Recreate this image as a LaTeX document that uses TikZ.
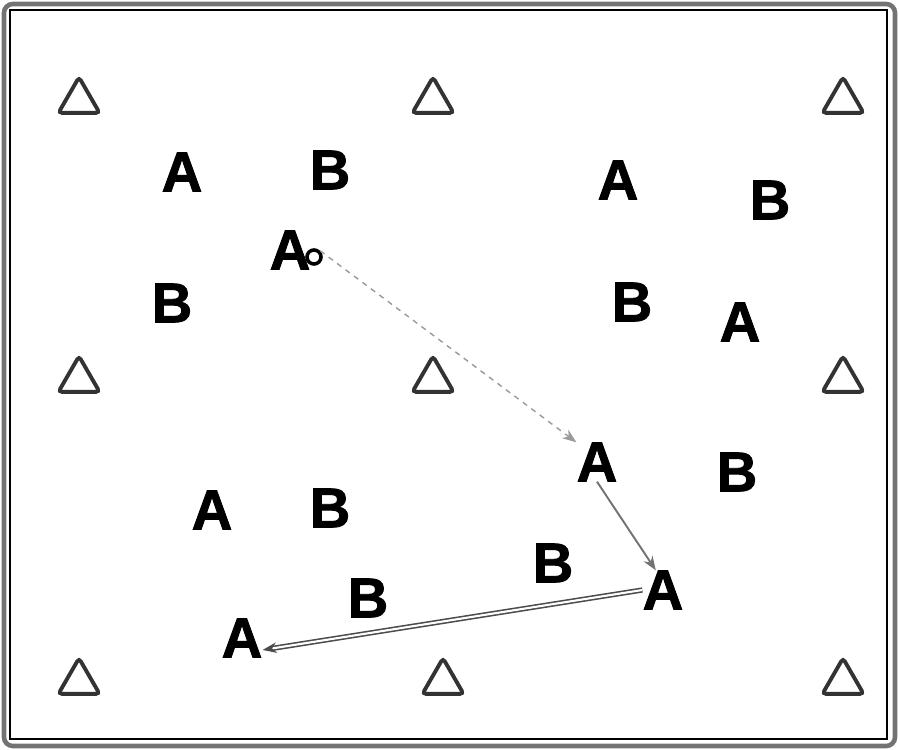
\documentclass[tikz,border=0pt]{standalone}
\usepackage{fontspec}
\setmainfont{Liberation Sans}
\newfontfamily\playerfont{Liberation Sans}[BoldFeatures={FakeBold=1.5}]
\usetikzlibrary{arrows.meta,shapes.geometric}

\begin{document}
\begin{tikzpicture}[
  x=0.02cm, y=-0.02cm,
  >={Stealth[length=8pt,width=6pt]},
  player/.style={font=\fontsize{32}{34}\playerfont\bfseries, inner sep=0pt},
  cone/.style={draw=black!80, line width=2.2pt, regular polygon, regular polygon sides=3,
               minimum size=0.95cm, inner sep=0pt, rounded corners=2pt},
  ball/.style={circle, draw=black, line width=2pt, fill=white, minimum size=8pt, inner sep=0pt},
  run/.style={->, gray!80, line width=0.8pt, dashed},
  pass/.style={->, black!55, line width=1.1pt},
  dribble/.style={->, draw=black!70, double=white, double distance=1.2pt, line width=0.9pt}
]
\useasboundingbox (0,0) rectangle (900,750);

% --- Frame ---
\draw[line width=2.6pt, black!55, rounded corners=5pt] (4,4) rectangle (895,746);
\draw[line width=0.6pt] (10,10) rectangle (887,739);

% --- Cones ---
\node[cone] (c11) at (79,101) {};
\node[cone] (c12) at (433,101) {};
\node[cone] (c13) at (843,101) {};
\node[cone] (c21) at (79,380) {};
\node[cone] (c22) at (433,380) {};
\node[cone] (c23) at (843,380) {};
\node[cone] (c31) at (79,682) {};
\node[cone] (c32) at (443,682) {};
\node[cone] (c33) at (843,682) {};

% --- Players ---
\node[player] (a1) at (182,172) {A};
\node[player] (b1) at (330,170) {B};
\node[player] (a2) at (618,180) {A};
\node[player] (b2) at (770,200) {B};
\node[player] (a3) at (290,250) {A};
\node[player] (b3) at (172,303) {B};
\node[player] (b4) at (632,302) {B};
\node[player] (a4) at (740,322) {A};
\node[player] (a5) at (597,462) {A};
\node[player] (b5) at (737,472) {B};
\node[player] (a6) at (212,510) {A};
\node[player] (b6) at (330,508) {B};
\node[player] (b7) at (553,563) {B};
\node[player] (a7) at (663,590) {A};
\node[player] (b8) at (368,598) {B};
\node[player] (a8) at (242,638) {A};

% --- Ball ---
\node[ball] (ball) at (314,257) {};

% --- Runs and passes ---
\draw[run] (ball.north east) -- (a5.north west);
\draw[pass] (a5.south) -- (a7.110);
\draw[dribble] (a7.west) -- (a8.-30);

\end{tikzpicture}
\end{document}
